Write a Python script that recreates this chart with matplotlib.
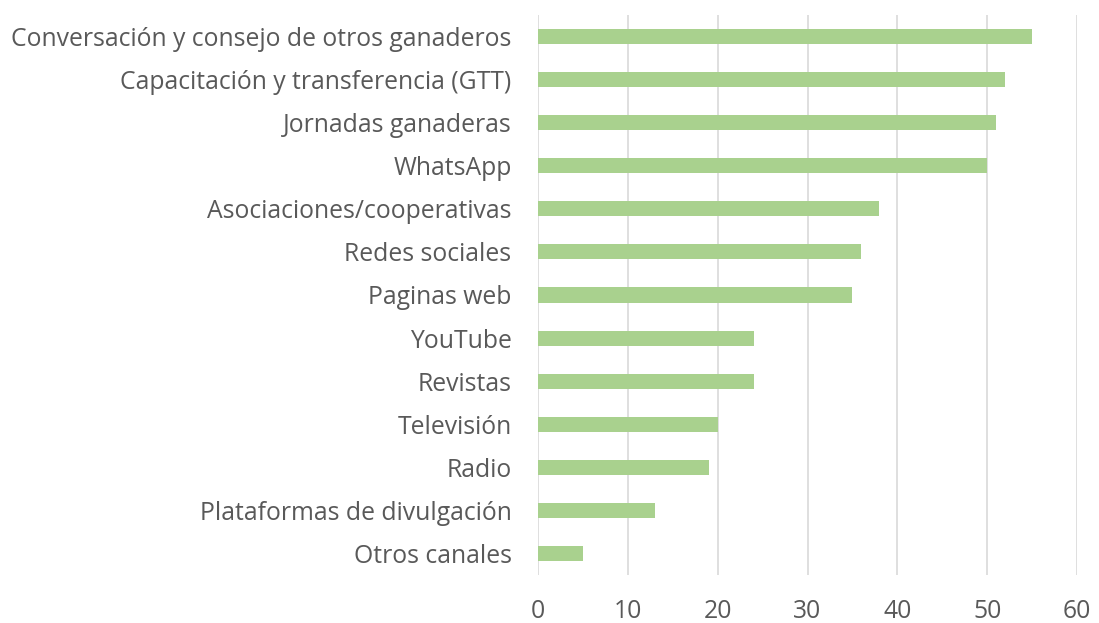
import matplotlib.pyplot as plt

# Canales de información (de arriba hacia abajo)
canales = [
    "Conversación y consejo de otros ganaderos",
    "Capacitación y transferencia (GTT)",
    "Jornadas ganaderas",
    "WhatsApp",
    "Asociaciones/cooperativas",
    "Redes sociales",
    "Paginas web",
    "YouTube",
    "Revistas",
    "Televisión",
    "Radio",
    "Plataformas de divulgación",
    "Otros canales",
]
valores = [55, 52, 51, 50, 38, 36, 35, 24, 24, 20, 19, 13, 5]
ticks_x = [0, 10, 20, 30, 40, 50, 60]

plt.rcParams['font.family'] = ['Open Sans', 'DejaVu Sans']

fig = plt.figure(figsize=(10.99, 6.23), dpi=100)
ax = fig.add_axes([538 / 1099, 1 - 575 / 623, 539 / 1099, 560 / 623])

pos = list(range(len(canales)))[::-1]
ax.barh(pos, valores, height=0.35, color='#A9D18E', zorder=3)

ax.set_xlim(0, 60)
ax.set_ylim(-0.5, len(canales) - 0.5)
ax.set_xticks(ticks_x)
ax.set_yticks(pos)
ax.set_yticklabels(canales)
ax.grid(axis='x', color='#D9D9D9', linewidth=1.2, zorder=0)
ax.grid(axis='y', visible=False)
for s in ax.spines.values():
    s.set_visible(False)
ax.tick_params(axis='both', length=0, labelsize=17.8, colors='#595959')
ax.tick_params(axis='y', pad=19)
ax.tick_params(axis='x', pad=17)

fig.savefig('out.png', dpi=100)
